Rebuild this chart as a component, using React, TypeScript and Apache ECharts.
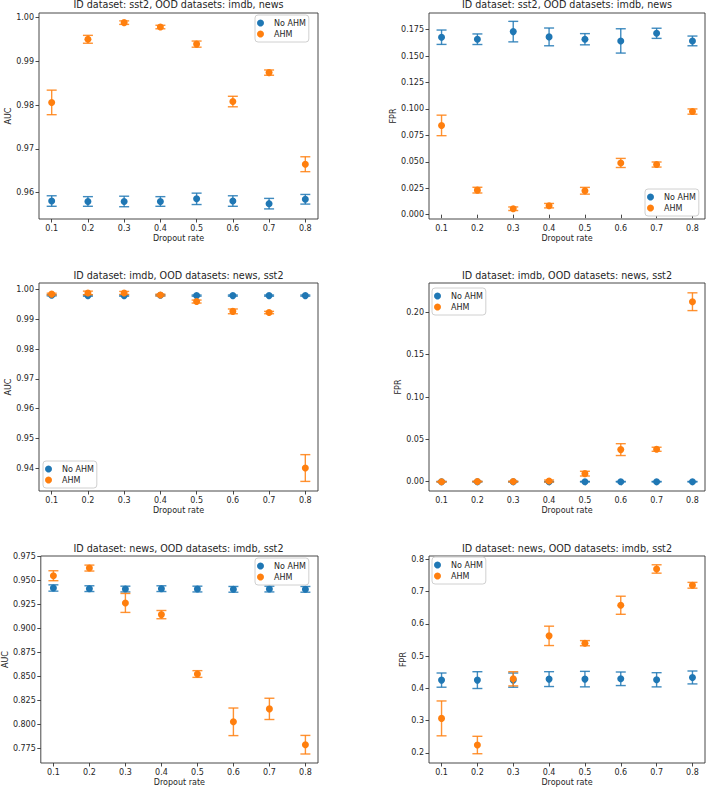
import React, { useEffect, useRef } from 'react';
import * as echarts from 'echarts';

const dropoutRates = [0.1, 0.2, 0.3, 0.4, 0.5, 0.6, 0.7, 0.8];
const seriesNames = ['No AHM', 'AHM'];

// ID sst2
const sst2AucNoAhm = [0.9581, 0.958, 0.958, 0.958, 0.9586, 0.9581, 0.9575, 0.9585];
const sst2AucNoAhmErr = [0.0012, 0.0011, 0.0012, 0.0011, 0.0013, 0.0012, 0.0012, 0.0011];
const sst2AucAhm = [0.9806, 0.995, 0.9988, 0.9978, 0.9939, 0.9808, 0.9874, 0.9665];
const sst2AucAhmErr = [0.0028, 0.0009, 0.0004, 0.0004, 0.0007, 0.0012, 0.0006, 0.0017];
const sst2FprNoAhm = [0.1678, 0.1659, 0.1731, 0.1681, 0.1659, 0.1643, 0.1715, 0.1643];
const sst2FprNoAhmErr = [0.0068, 0.005, 0.0097, 0.0084, 0.0053, 0.0115, 0.0048, 0.0046];
const sst2FprAhm = [0.0844, 0.0232, 0.0056, 0.0085, 0.0226, 0.0489, 0.0474, 0.0975];
const sst2FprAhmErr = [0.0097, 0.0027, 0.0017, 0.0021, 0.0032, 0.0043, 0.0024, 0.0025];

// ID imdb
const imdbAucNoAhm = [0.9981, 0.998, 0.998, 0.9981, 0.998, 0.998, 0.998, 0.998];
const imdbAucNoAhmErr = [0.0002, 0.0002, 0.0002, 0.0002, 0.0002, 0.0002, 0.0002, 0.0002];
const imdbAucAhm = [0.9985, 0.9989, 0.9989, 0.9982, 0.996, 0.9927, 0.9923, 0.94];
const imdbAucAhmErr = [0.0003, 0.0006, 0.0005, 0.0003, 0.0005, 0.0008, 0.0004, 0.0045];
const imdbFprNoAhm = [0, 0, 0, 0, 0, 0, 0, 0];
const imdbFprNoAhmErr = [0.0003, 0.0003, 0.0003, 0.0003, 0.0003, 0.0003, 0.0003, 0.0003];
const imdbFprAhm = [0, 0.0002, 0.0002, 0.0008, 0.0095, 0.0379, 0.0383, 0.2126];
const imdbFprAhmErr = [0.0002, 0.0004, 0.0004, 0.0012, 0.0028, 0.007, 0.0024, 0.0105];

// ID news
const newsAucNoAhm = [0.9421, 0.9414, 0.941, 0.9414, 0.941, 0.9407, 0.941, 0.9407];
const newsAucNoAhmErr = [0.0033, 0.003, 0.003, 0.003, 0.003, 0.003, 0.003, 0.003];
const newsAucAhm = [0.9549, 0.9629, 0.9265, 0.9143, 0.8523, 0.8024, 0.8159, 0.7785];
const newsAucAhmErr = [0.0052, 0.0031, 0.0099, 0.0043, 0.0035, 0.0144, 0.0111, 0.0097];
const newsFprNoAhm = [0.4258, 0.4258, 0.4258, 0.4289, 0.4289, 0.4299, 0.4268, 0.434];
const newsFprNoAhmErr = [0.022, 0.026, 0.022, 0.023, 0.024, 0.021, 0.022, 0.02];
const newsFprAhm = [0.3072, 0.2247, 0.4299, 0.5629, 0.5402, 0.6577, 0.7701, 0.7196];
const newsFprAhmErr = [0.054, 0.027, 0.022, 0.03, 0.008, 0.028, 0.013, 0.009];

// tick labels
const aucTicksSst2 = [0.96, 0.97, 0.98, 0.99, 1.0];
const fprTicksSst2 = [0.0, 0.025, 0.05, 0.075, 0.1, 0.125, 0.15, 0.175];
const aucTicksImdb = [0.94, 0.95, 0.96, 0.97, 0.98, 0.99, 1.0];
const fprTicksImdb = [0.0, 0.05, 0.1, 0.15, 0.2];
const aucTicksNews = [0.775, 0.8, 0.825, 0.85, 0.875, 0.9, 0.925, 0.95, 0.975];
const fprTicksNews = [0.2, 0.3, 0.4, 0.5, 0.6, 0.7, 0.8];

const titles = [
  'ID dataset: sst2, OOD datasets: imdb, news',
  'ID dataset: sst2, OOD datasets: imdb, news',
  'ID dataset: imdb, OOD datasets: news, sst2',
  'ID dataset: imdb, OOD datasets: news, sst2',
  'ID dataset: news, OOD datasets: imdb, sst2',
  'ID dataset: news, OOD datasets: imdb, sst2',
];

const BLUE = '#1f77b4';
const ORANGE = '#ff7f0e';
const FONT = 'DejaVu Sans';
const TEXT = '#262626';

type Panel = {
  left: number; top: number; width: number; height: number;
  yName: string; yMin: number; yMax: number; ticks: number[]; dec: number; nameGap: number;
  noAhm: number[]; noAhmErr: number[]; ahm: number[]; ahmErr: number[];
  legend: { left: number; top: number };
  titleY: number;
};

const panels: Panel[] = [
  { left: 39, top: 13, width: 279, height: 206, yName: 'AUC', yMin: 0.954, yMax: 1.001, ticks: aucTicksSst2, dec: 2, nameGap: 25,
    noAhm: sst2AucNoAhm, noAhmErr: sst2AucNoAhmErr, ahm: sst2AucAhm, ahmErr: sst2AucAhmErr, legend: { left: 255, top: 15 }, titleY: 4 },
  { left: 429, top: 13, width: 276, height: 206, yName: 'FPR', yMin: -0.0041, yMax: 0.1907, ticks: fprTicksSst2, dec: 3, nameGap: 31,
    noAhm: sst2FprNoAhm, noAhmErr: sst2FprNoAhmErr, ahm: sst2FprAhm, ahmErr: sst2FprAhmErr, legend: { left: 645, top: 189 }, titleY: 4 },
  { left: 39, top: 283, width: 279, height: 208, yName: 'AUC', yMin: 0.93227, yMax: 1.00224, ticks: aucTicksImdb, dec: 2, nameGap: 25,
    noAhm: imdbAucNoAhm, noAhmErr: imdbAucNoAhmErr, ahm: imdbAucAhm, ahmErr: imdbAucAhmErr, legend: { left: 43, top: 461 }, titleY: 275 },
  { left: 429, top: 283, width: 276, height: 208, yName: 'FPR', yMin: -0.011, yMax: 0.2347, ticks: fprTicksImdb, dec: 2, nameGap: 26,
    noAhm: imdbFprNoAhm, noAhmErr: imdbFprNoAhmErr, ahm: imdbFprAhm, ahmErr: imdbFprAhmErr, legend: { left: 432, top: 288 }, titleY: 275 },
  { left: 39, top: 556, width: 279, height: 207, yName: 'AUC', yMin: 0.7594, yMax: 0.9755, ticks: aucTicksNews, dec: 3, nameGap: 30,
    noAhm: newsAucNoAhm, noAhmErr: newsAucNoAhmErr, ahm: newsAucAhm, ahmErr: newsAucAhmErr, legend: { left: 255, top: 558 }, titleY: 548 },
  { left: 429, top: 556, width: 276, height: 207, yName: 'FPR', yMin: 0.169, yMax: 0.8103, ticks: fprTicksNews, dec: 1, nameGap: 20,
    noAhm: newsFprNoAhm, noAhmErr: newsFprNoAhmErr, ahm: newsFprAhm, ahmErr: newsFprAhmErr, legend: { left: 432, top: 557 }, titleY: 548 },
];

function errorBarRender(color: string) {
  return (_params: any, api: any) => {
    const x = api.value(0);
    const lo = api.coord([x, api.value(1)]);
    const hi = api.coord([x, api.value(2)]);
    const w = 5;
    const style = { stroke: color, lineWidth: 1.4, opacity: 0.85 };
    return {
      type: 'group',
      children: [
        { type: 'line', shape: { x1: lo[0], y1: lo[1], x2: hi[0], y2: hi[1] }, style },
        { type: 'line', shape: { x1: lo[0] - w, y1: lo[1], x2: lo[0] + w, y2: lo[1] }, style },
        { type: 'line', shape: { x1: hi[0] - w, y1: hi[1], x2: hi[0] + w, y2: hi[1] }, style },
      ],
    };
  };
}

export default function App() {
  const ref = useRef<HTMLDivElement>(null);
  useEffect(() => {
    if (!ref.current) return;
    const chart = echarts.init(ref.current, null, { renderer: 'svg' });
    const grid: any[] = [];
    const xAxis: any[] = [];
    const yAxis: any[] = [];
    const series: any[] = [];
    const legend: any[] = [];
    const graphic: any[] = [];
    panels.forEach((p, i) => {
      grid.push({ left: p.left, top: p.top, width: p.width, height: p.height, show: true, borderColor: '#333', borderWidth: 0.9, backgroundColor: 'transparent' });
      xAxis.push({
        type: 'value', gridIndex: i, min: 0.065, max: 0.835,
        axisLine: { show: false },
        axisTick: { show: true, customValues: dropoutRates, length: 3.5, inside: false, lineStyle: { color: '#333', width: 0.9 } },
        axisLabel: { customValues: dropoutRates, formatter: (v: number) => v.toFixed(1), fontSize: 8, fontFamily: FONT, color: TEXT, margin: 5 },
        splitLine: { show: false },
        name: 'Dropout rate', nameLocation: 'middle', nameGap: 15,
        nameTextStyle: { fontSize: 8, fontFamily: FONT, color: TEXT },
      });
      yAxis.push({
        type: 'value', gridIndex: i, min: p.yMin, max: p.yMax,
        axisLine: { show: false },
        axisTick: { show: true, customValues: p.ticks, length: 3.5, lineStyle: { color: '#333', width: 0.9 } },
        axisLabel: { customValues: p.ticks, formatter: (v: number) => v.toFixed(p.dec), fontSize: 8, fontFamily: FONT, color: TEXT, margin: 5 },
        splitLine: { show: false },
        name: p.yName, nameLocation: 'middle', nameGap: p.nameGap, nameRotate: 90,
        nameTextStyle: { fontSize: 8, fontFamily: FONT, color: TEXT },
      });
      const groups = [
        { name: seriesNames[0], vals: p.noAhm, errs: p.noAhmErr, color: BLUE, z: 2 },
        { name: seriesNames[1], vals: p.ahm, errs: p.ahmErr, color: ORANGE, z: 4 },
      ];
      groups.forEach((g) => {
        series.push({
          type: 'scatter', name: g.name, xAxisIndex: i, yAxisIndex: i, z: g.z + 1,
          symbol: 'circle', symbolSize: 7,
          itemStyle: { color: g.color, opacity: 1 },
          data: dropoutRates.map((x, k) => [x, g.vals[k]]),
        });
        series.push({
          type: 'custom', name: g.name, xAxisIndex: i, yAxisIndex: i, z: g.z,
          renderItem: errorBarRender(g.color),
          itemStyle: { color: g.color },
          encode: { x: 0, y: [1, 2] },
          data: dropoutRates.map((x, k) => [x, g.vals[k] - g.errs[k], g.vals[k] + g.errs[k]]),
          silent: true,
        });
      });
      legend.push({
        left: p.legend.left, top: p.legend.top, orient: 'vertical',
        data: seriesNames.map((n, k) => ({ name: n, icon: 'circle', itemStyle: { color: k === 0 ? BLUE : ORANGE } })),
        itemWidth: 17, itemHeight: 7, itemGap: 3,
        padding: [4, 3, 4, 2],
        borderColor: '#d0d0d0', borderWidth: 1, borderRadius: 3, backgroundColor: '#fff',
        textStyle: { fontSize: 8, fontFamily: FONT, color: TEXT },
        selectedMode: false,
      });
      graphic.push({
        type: 'text', x: p.left + p.width / 2, y: p.titleY,
        style: { text: titles[i], fontSize: 9.6, fontFamily: FONT, fill: TEXT, textAlign: 'center', textVerticalAlign: 'middle' },
      });
    });
    chart.setOption({
      animation: false,
      backgroundColor: '#fff',
      grid, xAxis, yAxis, series, legend, graphic,
    });
    return () => chart.dispose();
  }, []);
  return <div ref={ref} style={{ position: 'fixed', left: 0, top: 0, width: 708, height: 788 }} />;
}
